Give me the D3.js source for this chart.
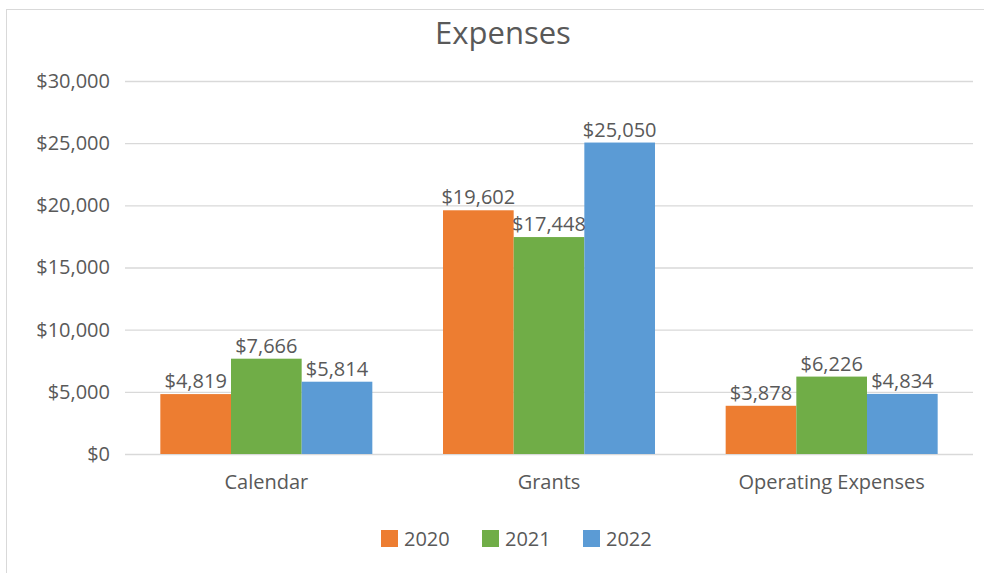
<!DOCTYPE html>
<html>
<head>
<meta charset="utf-8">
<script src="https://cdn.jsdelivr.net/npm/d3@7"></script>
<style>
  html, body { margin: 0; padding: 0; background: #fff; }
  svg { display: block; font-family: "Open Sans", sans-serif; }
</style>
</head>
<body>
<svg id="chart" width="984" height="573"></svg>
<script>
const categories = ["Calendar", "Grants", "Operating Expenses"];
const years = ["2020", "2021", "2022"];
const values2020 = [4819, 19602, 3878];
const values2021 = [7666, 17448, 6226];
const values2022 = [5814, 25050, 4834];
const yTickValues = [0, 5000, 10000, 15000, 20000, 25000, 30000];
const colors = ["#ED7D31", "#70AD47", "#5B9BD5"];
const titleText = "Expenses";

(function () {
const series = [values2020, values2021, values2022];
const textColor = "#595959";
const fs = "20px";

const svg = d3.select("#chart");

// chart border
svg.append("rect")
  .attr("x", 6.5).attr("y", 9.5)
  .attr("width", 1000).attr("height", 600)
  .attr("fill", "#fff").attr("stroke", "#d9d9d9");

const mLeft = 125, mRight = 973, mTop = 81, mBottom = 454;

const x0 = d3.scaleBand().domain(categories).range([mLeft, mRight]).paddingInner(0).paddingOuter(0);
const x1 = d3.scaleBand().domain(years).range([0, x0.bandwidth()]).paddingInner(0).paddingOuter(0.5);
const y = d3.scaleLinear().domain([0, 30000]).range([mBottom, mTop]);

const fmt = d3.format(",");

// y axis with gridlines
const yAxis = svg.append("g")
  .attr("transform", `translate(${mLeft},0)`)
  .call(d3.axisLeft(y).tickValues(yTickValues).tickSize(-(mRight - mLeft)).tickPadding(15).tickFormat(d => "$" + fmt(d)));
yAxis.select(".domain").remove();
yAxis.selectAll(".tick line").attr("stroke", "#d9d9d9").attr("stroke-width", 1.3);
yAxis.selectAll(".tick text").attr("fill", textColor).style("font-size", fs).style("font-family", "Open Sans");

// x axis labels
const xAxis = svg.append("g")
  .attr("transform", `translate(0,${mBottom})`)
  .call(d3.axisBottom(x0).tickSize(0).tickPadding(21));
xAxis.select(".domain").remove();
xAxis.selectAll(".tick text").attr("fill", textColor).style("font-size", fs).style("font-family", "Open Sans");

// bars
const groups = svg.append("g").selectAll("g")
  .data(categories)
  .join("g")
  .attr("transform", d => `translate(${x0(d)},0)`);

groups.selectAll("rect")
  .data((c, i) => years.map((yr, k) => ({ yr, k, v: series[k][i] })))
  .join("rect")
  .attr("x", d => x1(d.yr))
  .attr("width", x1.bandwidth())
  .attr("y", d => y(d.v))
  .attr("height", d => y(0) - y(d.v))
  .attr("fill", d => colors[d.k]);

groups.selectAll("text")
  .data((c, i) => years.map((yr, k) => ({ yr, k, v: series[k][i] })))
  .join("text")
  .attr("x", d => x1(d.yr) + x1.bandwidth() / 2)
  .attr("y", d => y(d.v) - 6)
  .attr("text-anchor", "middle")
  .attr("fill", textColor)
  .style("font-size", fs)
  .text(d => "$" + fmt(d.v));

// title
svg.append("text")
  .attr("x", 503).attr("y", 44)
  .attr("text-anchor", "middle")
  .attr("fill", textColor)
  .style("font-size", "31px")
  .text(titleText);

// legend
const legendX = [381, 482, 583];
const legend = svg.append("g").selectAll("g")
  .data(years)
  .join("g")
  .attr("transform", (d, i) => `translate(${legendX[i]},0)`);
legend.append("rect")
  .attr("x", 0).attr("y", 530).attr("width", 17).attr("height", 17)
  .attr("fill", (d, i) => colors[i]);
legend.append("text")
  .attr("x", 23).attr("y", 546)
  .attr("fill", textColor)
  .style("font-size", fs)
  .text(d => d);
})();
</script>
</body>
</html>
